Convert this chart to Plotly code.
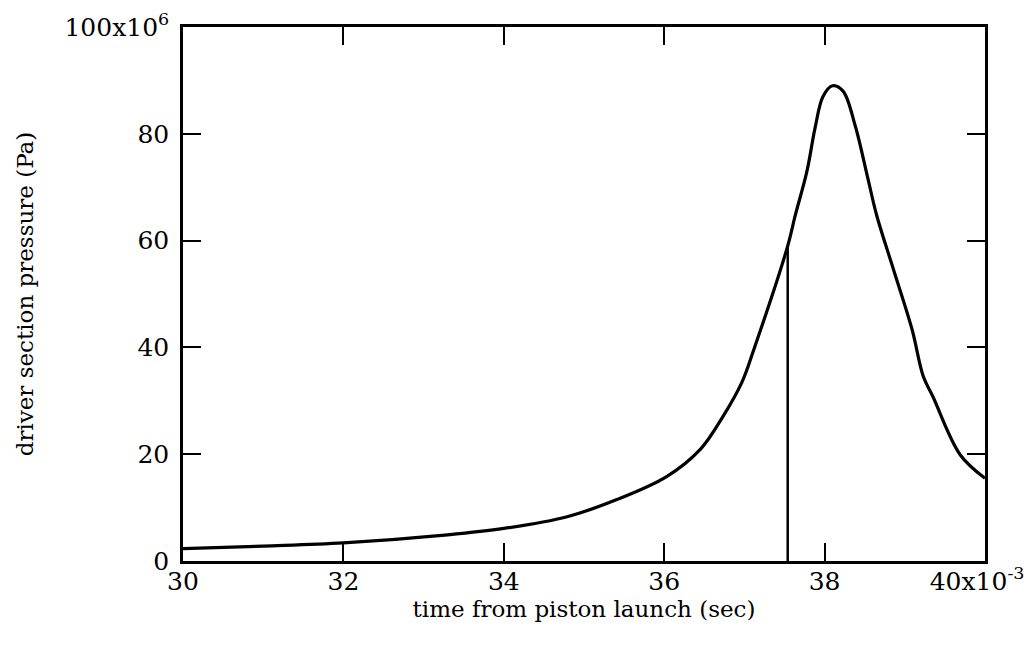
import plotly.graph_objects as go

# time from piston launch (ms, axis shown in units of 1e-3 s)
time_ms = [30.0, 31.0, 32.0, 33.3, 34.0, 34.79, 35.41, 36.03, 36.45, 36.73, 36.97,
           37.12, 37.54, 37.63, 37.78, 37.88, 37.98, 38.1, 38.23, 38.38, 38.54,
           38.65, 38.85, 39.09, 39.23, 39.35, 39.69, 40.0]
# driver section pressure (MPa, axis shown in units of 1e6 Pa)
pressure_mpa = [2.3, 2.8, 3.4, 4.9, 6.1, 8.3, 11.5, 15.8, 20.9, 27.0, 33.5,
                39.7, 59.0, 64.5, 73.0, 81.0, 87.0, 89.0, 88.0, 81.6, 71.6,
                64.7, 55.0, 43.4, 34.6, 30.8, 19.9, 15.5]

# vertical marker line
marker_time = [37.54, 37.54]
marker_pressure = [0.0, 59.0]

x_tickvals = [30, 32, 34, 36, 38, 40]
x_ticktext = ["30", "32", "34", "36", "38", "40x10<sup>-3</sup>\u00a0\u00a0"]
y_tickvals = [0, 20, 40, 60, 80, 100]
y_ticktext = ["0", "20", "40", "60", "80", "100x10<sup>6</sup>"]

FONT = "DejaVu Serif"

fig = go.Figure()
fig.add_trace(go.Scatter(x=time_ms, y=pressure_mpa, mode="lines",
                         line=dict(color="black", width=3.2, shape="spline", smoothing=1.0),
                         showlegend=False, hoverinfo="x+y"))
fig.add_trace(go.Scatter(x=marker_time, y=marker_pressure, mode="lines",
                         line=dict(color="black", width=2.5),
                         showlegend=False, hoverinfo="skip"))

axis_common = dict(showline=True, linecolor="black", linewidth=2.5, mirror="ticks",
                   ticks="inside", ticklen=18, tickwidth=2, tickcolor="black",
                   showgrid=False, zeroline=False, automargin=False,
                   ticklabeloverflow="allow",
                   tickfont=dict(family=FONT, size=25, color="black"))

fig.update_xaxes(range=[30, 40], tickvals=x_tickvals, ticktext=x_ticktext,
                 ticklabelstandoff=-4,
                 title=dict(text="time from piston launch (sec)",
                            font=dict(family=FONT, size=23, color="black"), standoff=4),
                 **axis_common)
fig.update_yaxes(range=[0, 100], tickvals=y_tickvals, ticktext=y_ticktext,
                 ticklabelstandoff=6,
                 title=dict(text="driver section pressure (Pa)",
                            font=dict(family=FONT, size=23, color="black"), standoff=25),
                 **axis_common)

fig.update_layout(width=1029, height=661,
                  margin=dict(l=183, r=44, t=27, b=100),
                  plot_bgcolor="white", paper_bgcolor="white",
                  font=dict(family=FONT, color="black"))

fig.write_html("out.html")
